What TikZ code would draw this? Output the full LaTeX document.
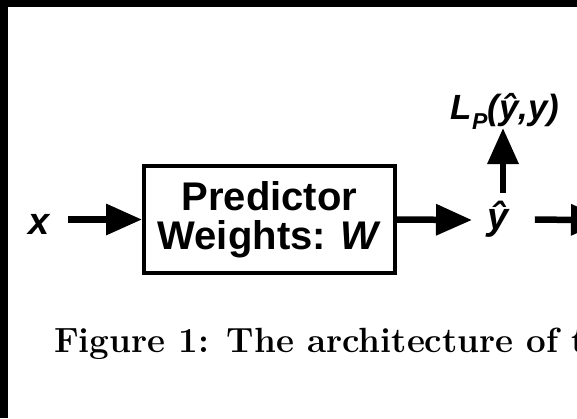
\documentclass[tikz,border=0pt]{standalone}
\usepackage{fontspec}
\setsansfont{Liberation Sans}
\usetikzlibrary{arrows.meta,positioning}

\begin{document}
\begin{tikzpicture}[x=1pt,y=-1pt,
  flow/.style={line width=6.5pt,-{Triangle[length=36pt,width=30pt]}},
  lbl/.style={font=\sffamily\bfseries\itshape\fontsize{38}{38}\selectfont,inner sep=0pt}]
\clip (0,0) rectangle (577,418);
\fill[white] (0,0) rectangle (577,418);
% black frame of the scan
\fill[black] (0,0) rectangle (577,7);
\fill[black] (0,0) rectangle (8,418);

\node[draw,line width=4pt,minimum width=251pt,minimum height=107pt,align=center,
  font=\sffamily\bfseries\fontsize{40}{39}\selectfont] (pred) at (269.5,219.5)
  {Predictor\\Weights: \textit{W}};
\node[lbl,anchor=base] (xin) at (39,234) {x};
\node[lbl,anchor=base] (yhat) at (498,229) {ŷ};
\node[lbl,anchor=base,font=\sffamily\bfseries\itshape\fontsize{35}{35}\selectfont] (loss) at (505,119)
  {L\raisebox{-0.3em}{\fontsize{23}{23}\selectfont P}(ŷ,y)};
\coordinate (cut) at (607,220);

\draw[flow,shorten <=18pt] (xin.east |- pred.west) -- (pred.west);
\draw[flow] (pred.east) -- (472,220);
\draw[flow,shorten <=26pt] (yhat.east |- pred.east) -- (cut);
\draw[flow] (503,193) -- (503,128);

\node[font=\bfseries\fontsize{35}{35}\selectfont,anchor=base west,inner sep=0pt] (cap) at (54,352)
  {Figure 1: The architecture of t};
\end{tikzpicture}
\end{document}
